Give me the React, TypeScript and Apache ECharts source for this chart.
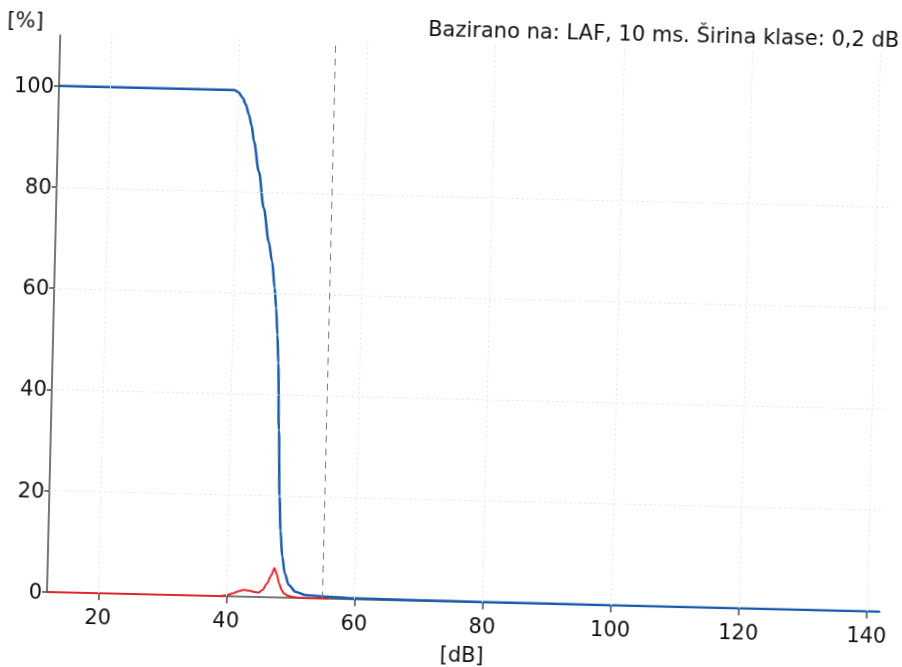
import React, { useEffect, useRef } from "react";
import * as echarts from "echarts";

// ---- data ----
const xTicks = [20, 40, 60, 80, 100, 120, 140];
const yTicks = [0, 20, 40, 60, 80, 100];
const yGrid = [20, 40, 60, 80];

const cumulativeDb = [12, 39.3, 40.0, 40.7, 41.2, 41.75, 42.2, 42.63, 43.5, 44.4, 45.3, 45.9, 46.4, 46.7, 47.0, 47.24, 47.58, 47.93, 48.2, 48.57, 49.03, 49.7, 50.8, 52.3, 55.5, 60, 70, 80, 100, 142];
const cumulativePct = [100, 100, 99.6, 98.5, 97.2, 95.2, 93, 89.9, 84, 76.8, 70.2, 66.3, 61.1, 57.1, 51.9, 46.3, 33.1, 19.9, 13.3, 8.1, 4.8, 2.5, 1.2, 0.6, 0.4, 0.2, 0.1, 0.05, 0, 0];

const histDb = [12, 39, 40, 41, 42, 42.7, 43.5, 44.3, 45, 45.6, 46.3, 46.9, 47.4, 47.8, 48.2, 48.6, 49, 49.6, 50.3, 51.5, 53, 56];
const histPct = [0, 0, 0.2, 0.6, 1.1, 1.35, 1.25, 1.0, 0.9, 1.4, 2.7, 4.3, 5.8, 4.5, 2.7, 1.5, 0.8, 0.4, 0.2, 0.05, 0, 0];

const markerDb = 55;
const titleText = "Bazirano na: LAF, 10 ms. Širina klase: 0,2 dB";
const xName = "[dB]";
const yName = "[%]";

const FONT = "DejaVu Sans";
const INK = "#111111";

export default function App() {
  const ref = useRef<HTMLDivElement>(null);
  useEffect(() => {
    document.body.style.margin = "0";
    document.body.style.overflow = "hidden";
    const chart = echarts.init(ref.current as HTMLDivElement, null, { renderer: "svg" });
    const gridLineStyle = { color: "#e3e5ee", type: [2, 3], width: 1 };
    chart.setOption({
      animation: false,
      grid: { left: 77, top: 65, width: 833, height: 557 },
      xAxis: {
        type: "value",
        min: 12,
        max: 142,
        axisLine: { show: true, onZero: false, lineStyle: { color: "#4a4a4a", width: 1.5 } },
        axisTick: { show: true, length: 7, customValues: xTicks, lineStyle: { color: "#4a4a4a", width: 1.5 } },
        axisLabel: { customValues: xTicks, margin: 13, fontSize: 21, fontFamily: FONT, color: INK },
        splitLine: { show: false },
      },
      yAxis: {
        type: "value",
        min: 0,
        max: 110,
        axisLine: { show: true, lineStyle: { color: "#4a4a4a", width: 1.5 } },
        axisTick: { show: true, length: 5, customValues: yTicks, lineStyle: { color: "#4a4a4a", width: 1.5 } },
        axisLabel: { customValues: yTicks, margin: 5, fontSize: 21, fontFamily: FONT, color: INK },
        splitLine: { show: false },
      },
      graphic: [
        {
          type: "text",
          style: { x: 916, y: 50, text: titleText, textAlign: "right", textVerticalAlign: "middle", fontSize: 21, fontFamily: FONT, fill: INK },
        },
        {
          type: "text",
          style: { x: 42, y: 51, text: yName, textAlign: "center", textVerticalAlign: "middle", fontSize: 21, fontFamily: FONT, fill: INK },
        },
        {
          type: "text",
          style: { x: 493, y: 675, text: xName, textAlign: "center", textVerticalAlign: "middle", fontSize: 21, fontFamily: FONT, fill: INK },
        },
      ],
      series: [
        {
          type: "line",
          data: [],
          silent: true,
          markLine: {
            silent: true,
            symbol: "none",
            label: { show: false },
            lineStyle: gridLineStyle,
            data: [...xTicks.map((v) => ({ xAxis: v })), ...yGrid.map((v) => ({ yAxis: v }))],
          },
        },
        {
          type: "line",
          data: [],
          silent: true,
          markLine: {
            silent: true,
            symbol: "none",
            label: { show: false },
            lineStyle: { color: "#7a7a7a", type: [7, 6], width: 1 },
            data: [{ xAxis: markerDb }],
          },
        },
        {
          name: "hist",
          type: "line",
          data: histDb.map((x, i) => [x, histPct[i]]),
          showSymbol: false,
          smooth: 0.3,
          smoothMonotone: "x",
          lineStyle: { color: "#e0262a", width: 2 },
          itemStyle: { color: "#e0262a" },
        },
        {
          name: "cum",
          type: "line",
          data: cumulativeDb.map((x, i) => [x, cumulativePct[i]]),
          showSymbol: false,
          smooth: 0.3,
          smoothMonotone: "x",
          lineStyle: { color: "#1a5aaa", width: 2.5 },
          itemStyle: { color: "#1a5aaa" },
        },
      ],
    });
    return () => chart.dispose();
  }, []);
  return (
    <div
      style={{
        position: "fixed",
        left: -30,
        top: -30,
        width: 962,
        height: 727,
        background: "#fff",
        transform: "rotate(1.36deg)",
        transformOrigin: "77px 622px",
      }}
    >
      <div ref={ref} style={{ width: 962, height: 727 }} />
    </div>
  );
}
